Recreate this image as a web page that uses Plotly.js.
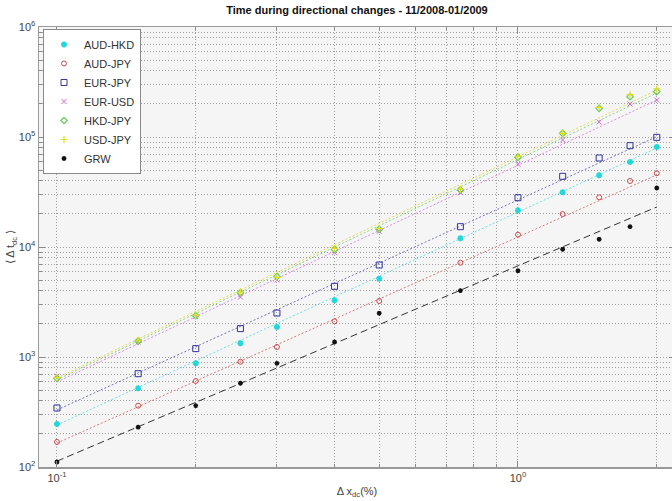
<!DOCTYPE html>
<html>
<head>
<meta charset="utf-8">
<script src="https://cdn.plot.ly/plotly-3.0.1.min.js"></script>
<style>
html,body{margin:0;padding:0;overflow:hidden;background:#fff;}
#chart{width:680px;height:501px;}
</style>
</head>
<body>
<div id="chart"></div>
<script>
// Δx_dc (%) thresholds
var dx = [0.1, 0.15, 0.2, 0.25, 0.3, 0.4, 0.5, 0.75, 1.0, 1.25, 1.5, 1.75, 2.0];

// mean time during directional changes
var audHkd = [246, 519, 877, 1331, 1874, 3276, 5150, 11990, 21550, 31420, 44860, 59260, 81100];
var audJpy = [169, 361, 605, 906, 1233, 2110, 3230, 7200, 12940, 19950, 28300, 39800, 46800];
var eurJpy = [344, 705, 1191, 1812, 2512, 4390, 6860, 15300, 28060, 43890, 64430, 83400, 99300];
var eurUsd = [670, 1370, 2330, 3507, 5012, 8870, 13900, 31170, 56450, 93950, 136900, 199500, 216900];
var hkdJpy = [640, 1397, 2377, 3846, 5370, 9528, 14490, 32960, 65340, 107900, 182300, 232600, 258200];
var usdJpy = [650, 1420, 2400, 3900, 5300, 9700, 14700, 33500, 67000, 108000, 186000, 242500, 273300];
var grw    = [111, 230, 361, 577, 876, 1369, 2496, 4010, 6090, 9530, 11750, 15300, 34380];

// fitted scaling-law lines (values at the ends of the range)
var fitX      = [0.1, 2.0];
var fitAudHkd = [241, 79400];
var fitAudJpy = [165, 45200];
var fitEurJpy = [330, 100700];
var fitEurUsd = [593, 216900];
var fitHkdJpy = [620, 251000];
var fitUsdJpy = [644, 267000];
var fitGrw    = [113, 23100];

var seriesNames = ['AUD-HKD', 'AUD-JPY', 'EUR-JPY', 'EUR-USD', 'HKD-JPY', 'USD-JPY', 'GRW'];

// axis ticks
var xTickVals = [0.1, 1];
var xTickText = ['10<sup>-1</sup>', '10<sup>0</sup>'];
var yTickVals = [100, 1000, 10000, 100000, 1000000];
var yTickText = ['10<sup>2</sup>', '10<sup>3</sup>', '10<sup>4</sup>', '10<sup>5</sup>', '10<sup>6</sup>'];

var styles = [
  {data: audHkd, fit: fitAudHkd, color: '#22d8d8', line: '#6fe0e0', symbol: 'asterisk-open', size: 5, lw: 1.8},
  {data: audJpy, fit: fitAudJpy, color: '#cc4a4a', line: '#d37c7c', symbol: 'circle-open', size: 5, lw: 1},
  {data: eurJpy, fit: fitEurJpy, color: '#33339a', line: '#7474b8', symbol: 'square-open', size: 6, lw: 1},
  {data: eurUsd, fit: fitEurUsd, color: '#d266d8', line: '#dc8ce0', symbol: 'x-thin-open', size: 5, lw: 1},
  {data: hkdJpy, fit: fitHkdJpy, color: '#66c85a', line: '#90d486', symbol: 'diamond-open', size: 5, lw: 1.2},
  {data: usdJpy, fit: fitUsdJpy, color: '#e0e020', line: '#dede50', symbol: 'cross-thin-open', size: 5, lw: 1.2},
  {data: grw, fit: fitGrw, color: '#111111', line: '#333333', symbol: 'asterisk-open', size: 4, lw: 1.4}
];

var traces = [];
styles.forEach(function (s, i) {
  traces.push({
    x: fitX, y: s.fit, type: 'scatter', mode: 'lines', showlegend: false, hoverinfo: 'skip',
    line: {color: s.line, width: 1, dash: seriesNames[i] === 'GRW' ? '7px,4px' : '2px,2px'}
  });
});
styles.forEach(function (s, i) {
  traces.push({
    x: dx, y: s.data, type: 'scatter', mode: 'markers', name: seriesNames[i],
    marker: {symbol: s.symbol, size: s.size, color: s.color, line: {color: s.color, width: s.lw}}
  });
});

var axisCommon = {
  type: 'log',
  showline: true, linecolor: '#9a9a9a', linewidth: 1.5, mirror: 'ticks',
  ticks: 'inside', ticklen: 6, tickcolor: '#8a8a8a', tickwidth: 1,
  showgrid: true, gridcolor: '#a0a0a0', gridwidth: 1, griddash: '1px,2px',
  zeroline: false,
  tickmode: 'array',
  tickfont: {family: 'Liberation Sans, Arial, sans-serif', size: 11, color: '#444'},
  minor: {dtick: 'D1', ticks: 'inside', ticklen: 3, tickcolor: '#8a8a8a', showgrid: true,
          gridcolor: '#a0a0a0', gridwidth: 1, griddash: '1px,2px'}
};

var layout = {
  width: 680, height: 501,
  margin: {l: 39, r: 5, t: 27, b: 34},
  paper_bgcolor: '#ffffff',
  plot_bgcolor: '#f5f5f5',
  title: {
    text: '<b>Time during directional changes - 11/2008-01/2009</b>',
    font: {family: 'Liberation Sans, Arial, sans-serif', size: 11, color: '#111'},
    x: 0.5, xref: 'paper', xanchor: 'center', y: 1, yref: 'container', yanchor: 'top', pad: {t: 6}
  },
  xaxis: Object.assign({}, axisCommon, {
    range: [-1.039, 0.3406],
    tickvals: xTickVals, ticktext: xTickText,
    title: {text: 'Δ x<sub>dc</sub>(%)', standoff: 4,
            font: {family: 'Liberation Sans, Arial, sans-serif', size: 11, color: '#444'}}
  }),
  yaxis: Object.assign({}, axisCommon, {
    range: [2, 6],
    tickvals: yTickVals, ticktext: yTickText,
    title: {text: '⟨ Δ t<sub>dc</sub> ⟩', standoff: 1,
            font: {family: 'Liberation Sans, Arial, sans-serif', size: 11, color: '#444'}}
  }),
  showlegend: true,
  legend: {
    x: 0.0063, y: 0.9955, xanchor: 'left', yanchor: 'top',
    bgcolor: '#ffffff', bordercolor: '#8a8a8a', borderwidth: 1,
    font: {family: 'Liberation Sans, Arial, sans-serif', size: 11, color: '#333'},
    itemwidth: 30, tracegroupgap: 0
  }
};

Plotly.newPlot('chart', traces, layout, {displayModeBar: false, staticPlot: true});
</script>
</body>
</html>
